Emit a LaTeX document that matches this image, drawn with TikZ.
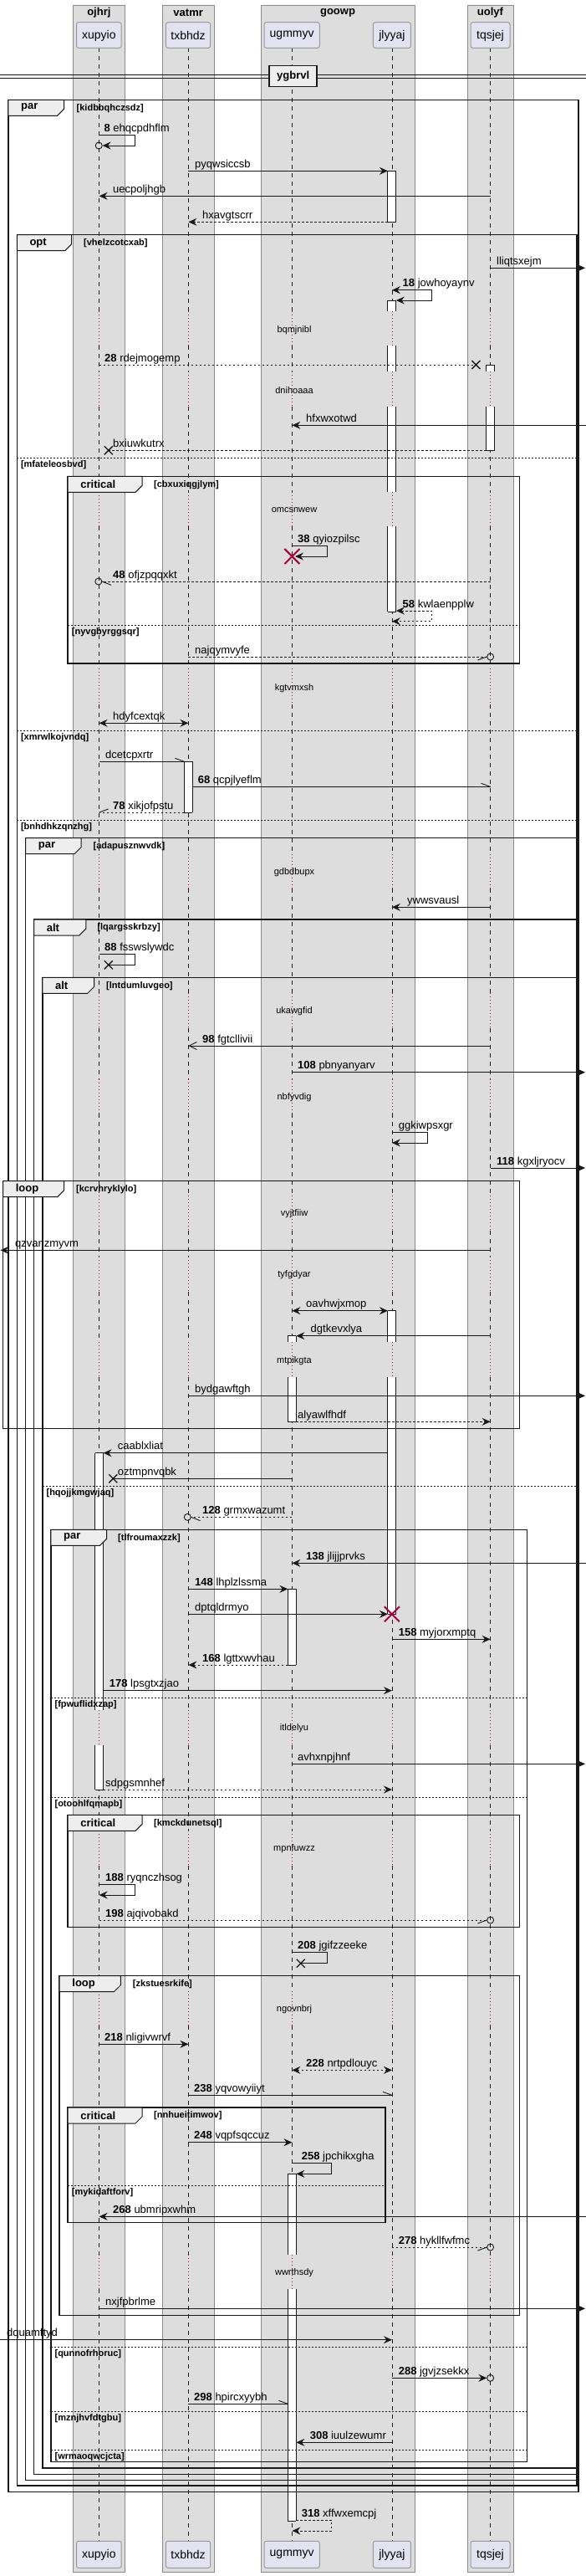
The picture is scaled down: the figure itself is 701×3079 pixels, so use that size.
\documentclass[tikz,border=0pt]{standalone}
\usepackage{fontspec}
\setmainfont{Liberation Sans}
\usetikzlibrary{arrows.meta}
\definecolor{grp}{HTML}{DDDDDD}
\definecolor{grpb}{HTML}{8A8A8A}
\definecolor{part}{HTML}{E2E2F0}
\definecolor{partb}{HTML}{9A9A9A}
\definecolor{ln}{HTML}{181818}
\definecolor{dly}{HTML}{A80036}
\definecolor{tabc}{HTML}{EEEEEE}
\newcommand\fs[1]{\fontsize{#1}{#1}\selectfont}
\newcommand\Num[2]{\textbf{#1} #2}
\newcommand\Msg[7]{%
  \coordinate (#1s) at (#2,#4);
  \coordinate (#1e) at (#3,#4);
  \draw[#5] (#1s) -- (#1e);
  \node[lbl] (#1l) at (#6,#4-4) {#7};}
\newcommand\Self[9]{%
  \coordinate (#1s) at (#2,#4);
  \coordinate (#1e) at (#6,#5);
  \draw[#7] (#1s) -- (#3,#4) -- (#3,#5) -- (#1e);
  \node[lbl] (#1l) at (#8,#4-4) {#9};}
\newcommand\Xm[2]{\draw[ln, line width=1.3pt] (#1-5,#2-5) -- (#1+5,#2+5) (#1-5,#2+5) -- (#1+5,#2-5);}
\newcommand\RX[2]{\draw[dly, line width=2pt] (#1-9,#2-9) -- (#1+9,#2+9) (#1-9,#2+9) -- (#1+9,#2-9);}
\newcommand\Circ[2]{\draw[ln, line width=0.9pt] (#1,#2) circle (4pt);}
\newcommand\Barb[4]{\draw[ln, line width=0.9pt] (#1,#2) -- ++(#3,#4);}
\newcommand\Act[3]{%
  \fill[white] (#1-5,#2) rectangle (#1+5,#3);
  \draw[ln, line width=0.9pt] (#1-5,#2) -- (#1-5,#3) (#1+5,#2) -- (#1+5,#3);}
\newcommand\ActE[2]{\draw[ln, line width=0.9pt] (#1-5,#2) -- (#1+5,#2);}
\newcommand\Frame[9]{%
  \draw[frm] (#2,#3) rectangle (#4,#5);
  \draw[tabs] (#2,#3) -- (#6,#3) -- (#6,#3+11) -- (#6-8,#3+19) -- (#2,#3+19) -- cycle;
  \node[ttl] (#1t) at (#2+15,#3+9.5) {#7};
  \node[cnd] (#1c) at (#9,#3+10) {#8};}
\newcommand\Else[5]{%
  \draw[sep] (#2,#4) -- (#3,#4);
  \node[cnd] (#1) at (#2+4.5,#4+8.5) {#5};}
\tikzset{
  lbl/.style={anchor=base west, inner sep=0pt, font=\fs{13}},
  msg/.style={draw=ln, line width=0.9pt},
  dsh/.style={dash pattern=on 2.5pt off 2.5pt},
  ar/.style={msg,->},
  bar/.style={msg,<->},
  dar/.style={msg,dsh,->},
  dbar/.style={msg,dsh,<->},
  pl/.style={msg},
  dpl/.style={msg,dsh},
  oar/.style={msg,-{Straight Barb[length=9pt,width=9pt]}},
  frm/.style={draw=ln, line width=1.5pt},
  tabs/.style={draw=ln, line width=1pt, fill=tabc},
  ttl/.style={anchor=west, inner sep=0pt, font=\bfseries\fs{13}},
  cnd/.style={anchor=west, inner sep=0pt, font=\bfseries\fs{11}},
  sep/.style={draw=ln, line width=0.8pt, dash pattern=on 2pt off 2pt},
  life/.style={draw=ln, line width=0.6pt, dash pattern=on 5pt off 5pt},
  dl/.style={draw=dly, line width=0.8pt, dash pattern=on 1pt off 3pt},
  dtxt/.style={inner sep=0pt, font=\fs{11}},
  pbox/.style={draw=partb, fill=part, line width=1pt, rounded corners=2.5pt},
}
\def\normsegs{57.3/372.3, 413.3/444.3, 486/588.3, 629.3/799.3, 841.7/1020.7, 1062.2/1187, 1228.5/1289.7, 1331.2/1429, 1470.5/1502, 1543.5/1604.3, 1646/2044, 2085.5/2188, 2229.5/2379.7, 2421.2/2694.7, 2736.2/3037.3}
\def\delaysegs{372.3/413.3/394.7/bqmjnibl, 444.3/486/466.7/dnihoaaa, 588.3/629.3/609.3/omcsnwew, 799.3/841.7/822.7/kgtvmxsh, 1020.7/1062.2/1042.7/gdbdbupx, 1187/1228.5/1209/ukawgfid, 1289.7/1331.2/1311.7/nbfyvdig, 1429/1470.5/1451/vyjtfiiw, 1502/1543.5/1524/tyfgdyar, 1604.3/1646/1626.7/mtpikgta, 2044/2085.5/2066/itldelyu, 2188/2229.5/2210/mpnfuwzz, 2379.7/2421.2/2401.7/ngovnbrj, 2694.7/2736.2/2716.7/wwrthsdy}
\begin{document}
\begin{tikzpicture}[x=1pt,y=-1pt,>={Stealth[length=10pt,width=9pt,inset=3.5pt]}]
\useasboundingbox[fill=white] (0,0) rectangle (701,3079);
% groups
\foreach \n/\xa/\xb/\t in {g1/87/149.7/ojhrj, g2/193.9/256.5/vatmr, g3/312/496/goowp, g4/559/614/uolyf}{
  \draw[draw=grpb, fill=grp, line width=0.8pt] (\xa,6) rectangle (\xb,3074);
  \node[font=\bfseries\fs{13}, inner sep=0pt] (\n) at ({(\xa+\xb)/2},15) {\t};
}
% lifelines
\foreach \x in {118.6,225.4,349.4,468.9,586.6}{
  \foreach \ya/\yb in \normsegs { \draw[life] (\x,\ya) -- (\x,\yb); }
  \foreach \ya/\yb/\yc/\t in \delaysegs { \draw[dl] (\x,\ya) -- (\x,\yb); }
}
\foreach \ya/\yb/\yc/\t [count=\i] in \delaysegs { \node[dtxt] (dly\i) at (352,\yc) {\t}; }
% participants
\foreach \n/\xa/\xb/\t in {p1/91.5/145.2/xupyio, p2/198.4/251.6/txbhdz, p3/316/382.3/ugmmyv, p4/446.4/491.4/jlyyaj, p5/563/610/tqsjej}{
  \draw[pbox] (\xa,26.7) rectangle (\xb,57.3);
  \node[font=\fs{14}, inner sep=0pt] (\n t) at ({(\xa+\xb)/2},42.5) {\t};
  \draw[pbox] (\xa,3037.3) rectangle (\xb,3069.3);
  \node[font=\fs{14}, inner sep=0pt] (\n b) at ({(\xa+\xb)/2},3053.5) {\t};
}
% divider
\draw[ln, line width=1pt] (0,89.3) -- (701,89.3) (0,93.3) -- (701,93.3);
\node[draw=ln, line width=1.5pt, fill=tabc, font=\bfseries\fs{13}, minimum width=57pt, minimum height=25pt, inner sep=0pt] (div) at (350.7,91) {ygbrvl};
% activations
\Act{468.9}{204.3}{265.3}\ActE{468.9}{204.3}\ActE{468.9}{265.3}
\Act{468.9}{359}{372.3}\ActE{468.9}{359}
\Act{468.9}{413.3}{444.3}
\Act{468.9}{486}{588.3}
\Act{468.9}{629.3}{731}\ActE{468.9}{731}
\Act{468.9}{1566.7}{1604.3}\ActE{468.9}{1566.7}
\Act{468.9}{1646}{1929.3}\ActE{468.9}{1929.3}
\Act{349.4}{1596.7}{1604.3}\ActE{349.4}{1596.7}
\Act{349.4}{1646}{1699.3}\ActE{349.4}{1699.3}
\Act{349.4}{1899.3}{1990}\ActE{349.4}{1899.3}\ActE{349.4}{1990}
\Act{349.4}{2598.3}{2694.7}\ActE{349.4}{2598.3}
\Act{349.4}{2736.2}{3013.3}\ActE{349.4}{3013.3}
\Act{586.6}{436}{444.3}\ActE{586.6}{436}
\Act{586.6}{486}{538.3}\ActE{586.6}{538.3}
\Act{225.4}{910.3}{971}\ActE{225.4}{910.3}\ActE{225.4}{971}
\Act{118.6}{1736.7}{2044}\ActE{118.6}{1736.7}
\Act{118.6}{2085.5}{2139}\ActE{118.6}{2139}
% frames
\Frame{f1}{9.9}{119.3}{692}{2978.3}{76.6}{par}{[kidbbqhczsdz]}{91.5}
\Frame{f2}{20.3}{280.7}{690}{2971}{85.7}{opt}{[vhelzcotcxab]}{100}
\Else{e1}{20.3}{690}{547.3}{[mfateleosbvd]}
\Else{e2}{20.3}{690}{873.3}{[xmrwlkojvndq]}
\Else{e3}{20.3}{690}{980}{[bnhdhkzqnzhg]}
\Frame{f3}{81.2}{569.3}{621.3}{793}{170}{critical}{[cbxuxiqgjlym]}{184}
\Else{e4}{81.2}{621.3}{747.3}{[nyvgbyrggsqr]}
\Frame{f4}{30.7}{1001.7}{690}{2964.3}{97}{par}{[adapusznwvdk]}{111.4}
\Frame{f5}{40.6}{1099}{690}{2957.3}{102.8}{alt}{[lqargsskrbzy]}{116.3}
\Frame{f6}{50.9}{1168.3}{690}{2950}{112.7}{alt}{[lntdumluvgeo]}{127}
\Else{e5}{50.9}{690}{1776}{[hqojjkmgwjaq]}
\Frame{f7}{3.6}{1411.7}{621.3}{1707.3}{76.6}{loop}{[kcrvhryklylo]}{91}
\Frame{f8}{60.9}{1828.3}{630.3}{2942.7}{127.6}{par}{[tlfroumaxzzk]}{141}
\Else{e6}{60.9}{630.3}{2029.3}{[fpwuflidxzap]}
\Else{e7}{60.9}{630.3}{2148.3}{[otoohlfqmapb]}
\Else{e8}{60.9}{630.3}{2805}{[qunnofrhoruc]}
\Else{e9}{60.9}{630.3}{2882.3}{[mznjhvfdtgbu]}
\Else{e10}{60.9}{630.3}{2928.3}{[wrmaoqwcjcta]}
\Frame{f9}{81.2}{2169.3}{621.3}{2303.3}{170}{critical}{[kmckdunetsql]}{184}
\Frame{f10}{71.2}{2361.7}{621.3}{2767.3}{144.3}{loop}{[zkstuesrkife]}{158.7}
\Frame{f11}{81.2}{2519}{460.8}{2656.7}{170}{critical}{[nnhueitimwov]}{184}
\Else{e11}{81.2}{460.8}{2612.3}{[mykidaftforv]}
% messages
\Self{m1}{118.6}{161}{161.7}{174}{122.6}{ar}{124.4}{\Num{8}{ehqcpdhflm}}
\Circ{118.2}{174}
\Msg{m2}{225.4}{463.9}{204.3}{ar}{233}{pyqwsiccsb}
\Msg{m3}{586.6}{118.6}{234.3}{ar}{135}{uecpoljhgb}
\Msg{m4}{463.9}{225.4}{265.3}{dar}{242}{hxavgtscrr}
\Msg{m5}{586.6}{700}{320.3}{ar}{594}{lliqtsxejm}
\Self{m6}{468.9}{516.2}{346.7}{359}{473.9}{bar}{481.5}{\Num{18}{jowhoyaynv}}
\Msg{m7}{118.6}{569.4}{436}{dpl}{125}{\Num{28}{rdejmogemp}}
\Xm{569.4}{436}
\Msg{m8}{701}{349.4}{508.3}{ar}{366}{hfxwxotwd}
\Msg{m9}{581.6}{129.8}{538.3}{dpl}{135}{bxiuwkutrx}
\Xm{129.8}{538.3}
\Self{m10}{349.4}{391.3}{652.7}{665}{353}{ar}{356}{\Num{38}{qyiozpilsc}}
\RX{349.4}{665}
\Msg{m11}{586.6}{122}{695}{dpl}{135}{\Num{48}{ofjzpqqxkt}}
\Circ{117.8}{695}\Barb{122}{695}{11}{4.3}
\Self{m12}{473.9}{516.2}{730}{742.7}{468.9}{dbar}{481.5}{\Num{58}{kwlaenpplw}}
\Msg{m13}{225.4}{582.4}{785}{dpl}{233}{najqymvyfe}
\Circ{586.6}{785}\Barb{582.4}{785}{-11}{4}
\Msg{m14}{118.6}{225.4}{864.3}{bar}{135}{hdyfcextqk}
\Msg{m15}{118.6}{220.4}{910.3}{pl}{126}{dcetcpxrtr}
\Barb{220.4}{910.3}{-11}{-4}
\Msg{m16}{230.4}{586.6}{940.3}{pl}{236.7}{\Num{68}{qcpjlyeflm}}
\Barb{586.6}{940.3}{-11}{-4}
\Msg{m17}{220.4}{118.6}{971}{dpl}{135}{\Num{78}{xikjofpstu}}
\Barb{118.6}{971}{11}{-4}
\Msg{m18}{586.6}{468.9}{1084.3}{ar}{487}{ywwsvausl}
\Self{m19}{118.6}{161}{1140.7}{1153.3}{129.8}{pl}{125}{\Num{88}{fsswslywdc}}
\Xm{129.8}{1153.3}
\Msg{m20}{586.6}{225.4}{1250}{oar}{242}{\Num{98}{fgtcllivii}}
\Msg{m21}{349.4}{700}{1281.7}{ar}{356}{\Num{108}{pbnyanyarv}}
\Self{m22}{468.9}{511.7}{1353.3}{1366}{468.9}{ar}{476.6}{ggkiwpsxgr}
\Msg{m23}{586.6}{700}{1396}{ar}{594}{\Num{118}{kgxljryocv}}
\Msg{m24}{586.6}{0.5}{1494.3}{ar}{18}{qzvanzmyvm}
\Msg{m25}{349.4}{463.9}{1566.7}{bar}{366}{oavhwjxmop}
\Msg{m26}{586.6}{354.4}{1596.7}{ar}{371.5}{dgtkevxlya}
\Msg{m27}{225.4}{700}{1668.3}{ar}{233}{bydgawftgh}
\Msg{m28}{354.4}{586.6}{1699.3}{dar}{356}{alyawlfhdf}
\Msg{m29}{463.9}{123.6}{1736.7}{ar}{140.7}{caablxliat}
\Msg{m30}{349.4}{135.3}{1767.3}{pl}{140.7}{oztmpnvqbk}
\Xm{135.3}{1767.3}
\Msg{m31}{349.4}{228.5}{1813.3}{dpl}{242}{\Num{128}{grmxwazumt}}
\Circ{224.3}{1813.3}\Barb{228.5}{1813.3}{11}{4.3}
\Msg{m32}{701}{349.4}{1868.3}{ar}{366}{\Num{138}{jlijjprvks}}
\Msg{m33}{225.4}{344.4}{1899.3}{ar}{233}{\Num{148}{lhplzlssma}}
\Msg{m34}{225.4}{463.9}{1929.3}{ar}{233}{dptqldrmyo}
\RX{468.9}{1929.3}
\Msg{m35}{468.9}{586.6}{1959.3}{ar}{476.6}{\Num{158}{myjorxmptq}}
\Msg{m36}{344.4}{225.4}{1990}{dar}{242}{\Num{168}{lgttxwvhau}}
\Msg{m37}{123.6}{468.9}{2020.7}{ar}{130.7}{\Num{178}{lpsgtxzjao}}
\Msg{m38}{349.4}{700}{2108.3}{ar}{356}{avhxnpjhnf}
\Msg{m39}{123.6}{468.9}{2139}{dar}{126}{sdpgsmnhef}
\Self{m40}{118.6}{161}{2252.7}{2265}{118.6}{ar}{126}{\Num{188}{ryqnczhsog}}
\Msg{m41}{118.6}{582.4}{2295}{dpl}{126}{\Num{198}{ajqivobakd}}
\Circ{586.6}{2295}\Barb{582.4}{2295}{-11}{4}
\Self{m42}{349.4}{391.3}{2333.3}{2346.7}{359.8}{pl}{356}{\Num{208}{jgifzzeeke}}
\Xm{359.8}{2346.7}
\Msg{m43}{118.6}{225.4}{2443.3}{ar}{125}{\Num{218}{nligivwrvf}}
\Msg{m44}{349.4}{468.9}{2474.3}{dbar}{366}{\Num{228}{nrtpdlouyc}}
\Msg{m45}{225.4}{468.9}{2504.3}{pl}{232}{\Num{238}{yqvowyiiyt}}
\Barb{468.9}{2504.3}{-11}{-4}
\Msg{m46}{225.4}{349.4}{2560.7}{ar}{232}{\Num{248}{vqpfsqccuz}}
\Self{m47}{349.4}{396.8}{2585.7}{2598.3}{354.4}{ar}{360.7}{\Num{258}{jpchikxgha}}
\Msg{m48}{701}{118.6}{2649.3}{ar}{135}{\Num{268}{ubmripxwhm}}
\Msg{m49}{468.9}{582.4}{2686}{dpl}{476.6}{\Num{278}{hykllfwfmc}}
\Circ{586.6}{2686}\Barb{582.4}{2686}{-11}{4}
\Msg{m50}{118.6}{700}{2759.3}{ar}{126}{nxjfpbrlme}
\Msg{m51}{0}{468.9}{2796.7}{ar}{8}{dquamftyd}
\Msg{m52}{468.9}{582.4}{2842.3}{ar}{476.6}{\Num{288}{jgvjzsekkx}}
\Circ{586.6}{2842.3}
\Msg{m53}{225.4}{344.4}{2873.3}{pl}{232}{\Num{298}{hpircxyybh}}
\Barb{344.4}{2873.3}{-11}{-4}
\Msg{m54}{468.9}{354.4}{2919.3}{ar}{370.6}{\Num{308}{iuulzewumr}}
\Self{m55}{354.4}{396.8}{3012.3}{3025}{349.4}{dar}{360.7}{\Num{318}{xffwxemcpj}}
\end{tikzpicture}
\end{document}
